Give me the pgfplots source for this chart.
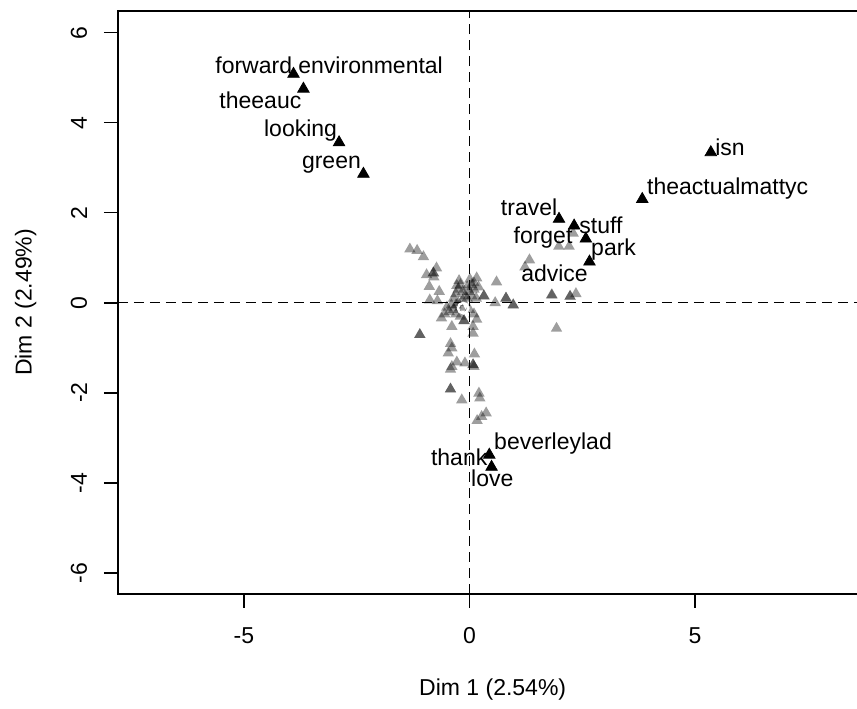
\documentclass[border=0pt]{standalone}
\usepackage{fontspec}
\setmainfont{Liberation Sans}
\usepackage{pgfplots}
\pgfplotsset{compat=1.18}
\begin{document}
\fontsize{11.5}{14}\selectfont
\begin{tikzpicture}
\begin{axis}[
 scale only axis, width=369.5pt, height=291.5pt,
 xmin=-7.79, xmax=8.59, ymin=-6.47, ymax=6.48,
 axis line style={draw=none},
 tick align=outside, tick pos=left,
 major tick length=7pt,
 tick style={black, line width=0.8pt},
 xtick={-5,0,5}, xticklabels={-5,0,5},
 ytick={-6,-4,-2,0,2,4,6}, yticklabels={-6,-4,-2,0,2,4,6},
 xticklabel style={anchor=center},
 xticklabel shift=14pt,
 yticklabel style={rotate=90, anchor=center},
 yticklabel shift=12.5pt,
 xlabel={Dim 1 (2.54\%)}, ylabel={Dim 2 (2.49\%)},
 xlabel style={at={(axis description cs:0.507,-0.1647)}, anchor=center},
 ylabel style={at={(axis description cs:-0.125,0.5)}, anchor=center},
 clip=false,
]
\coordinate (ll) at (rel axis cs:0,0);
\coordinate (ur) at (rel axis cs:1,1);
\draw[black, line width=0.75pt, dash pattern=on 5pt off 3pt] (axis cs:0,-6.47) -- (axis cs:0,6.48);
\draw[black, line width=0.75pt, dash pattern=on 5pt off 3pt] (axis cs:-7.79,0) -- (axis cs:8.59,0);
% grey (low contribution) points
\addplot[only marks, mark=triangle*, mark size=3.3pt, mark options={fill=black, fill opacity=0.38, draw opacity=0}] coordinates {
(-1.32,1.19) (-1.16,1.16) (-1.02,1.02) (-0.73,0.77) (-0.95,0.62) (-0.80,0.66) (-0.80,0.66)
(-0.79,0.57) (-0.89,0.36) (-0.67,0.25) (-0.88,0.06) (-0.71,0.04) (-0.23,0.49)
(0.01,0.52) (0.16,0.55) (0.10,0.44) (0.60,0.46) (0.32,0.15) (0.32,0.15) (0.57,0.0)
(0.81,0.10) (0.81,0.10) (0.97,-0.05) (0.97,-0.05) (1.83,0.17) (1.93,-0.57)
(-0.62,-0.34) (-0.39,-0.53) (-0.12,-0.40) (-0.12,-0.40) (0.16,-0.37) (0.08,-0.53) (0.08,-0.68)
(-1.10,-0.71) (-1.10,-0.71) (-0.42,-0.91) (-0.39,-1.01) (-0.47,-1.12) (0.11,-1.14)
(-0.28,-1.32) (-0.39,-1.42) (-0.42,-1.48) (-0.10,-1.34) (0.08,-1.38) (0.08,-1.38) (0.10,-1.42)
(-0.42,-1.92) (-0.42,-1.92) (-0.17,-2.16) (0.21,-2.01) (0.23,-2.12)
(0.37,-2.45) (0.27,-2.53) (0.17,-2.62)
(2.30,1.54) (1.98,1.25) (2.21,1.25) (1.33,0.95) (1.23,0.79) (1.82,0.17)
(2.23,0.14) (2.23,0.14) (2.36,0.20)
(-0.35,0.10) (-0.30,0.20) (-0.25,0.30) (-0.20,0.40) (-0.15,0.25) (-0.10,0.15)
(-0.05,0.35) (0.00,0.25) (0.05,0.40) (0.10,0.30) (-0.40,-0.05) (-0.35,-0.15)
(-0.30,-0.05) (-0.25,0.00) (-0.20,-0.10) (-0.15,0.05) (-0.05,0.10) (0.05,0.15)
(-0.45,-0.20) (-0.30,-0.25) (-0.20,-0.30) (0.00,-0.15) (0.10,-0.25) (0.15,0.10)
(0.20,0.35) (-0.28,0.38) (-0.50,-0.10) (-0.55,-0.25)
};
\addplot[only marks, mark=o, mark size=2.6pt, mark options={draw=white, line width=1.2pt}] coordinates {(-0.14,-0.12)};
% labelled (high contribution) points
\addplot[only marks, mark=triangle*, mark size=3.3pt, mark options={fill=black, draw=black}] coordinates {
(-3.90,5.08) (-3.68,4.75) (-2.89,3.56) (-2.35,2.86) (5.35,3.34) (3.83,2.30)
(1.985,1.86) (2.32,1.71) (2.58,1.42) (2.66,0.91) (0.44,-3.38) (0.49,-3.65)
};
\begin{scope}[every node/.style={anchor=base west, inner sep=0pt}]
\node at (axis cs:-5.64,5.10) {forward};
\node at (axis cs:-3.80,5.10) {environmental};
\node at (axis cs:-5.55,4.32) {theeauc};
\node at (axis cs:-4.56,3.69) {looking};
\node at (axis cs:-3.72,2.99) {green};
\node at (axis cs:5.44,3.28) {isn};
\node at (axis cs:3.93,2.40) {theactualmattyc};
\node at (axis cs:0.69,1.94) {travel};
\node at (axis cs:2.43,1.54) {stuff};
\node at (axis cs:0.97,1.32) {forget};
\node at (axis cs:2.69,1.04) {park};
\node at (axis cs:1.14,0.47) {advice};
\node at (axis cs:-0.86,-3.62) {thank};
\node at (axis cs:0.54,-3.25) {beverleylad};
\node at (axis cs:0.03,-4.09) {love};
\end{scope}
\end{axis}
\draw[line width=1pt] (ur) -- (ur-|ll) -- (ll) -- (ll-|ur);
\pgfresetboundingbox
\path[use as bounding box] ([xshift=-59pt,yshift=-57.5pt]ll) rectangle ([yshift=5.5pt]ur);
\end{tikzpicture}
\end{document}
